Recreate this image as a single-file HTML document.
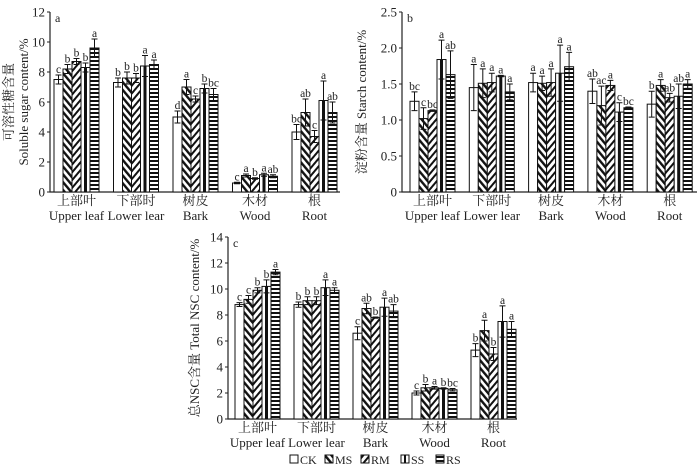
<!DOCTYPE html>
<html><head><meta charset="utf-8"><style>
html,body{margin:0;padding:0;background:#fff;}
svg text{font-family:"Liberation Serif","Noto Serif CJK SC",serif;}
</style></head><body>
<svg id="chart" width="700" height="469" viewBox="0 0 700 469" xmlns="http://www.w3.org/2000/svg">
<defs>
<pattern id="pMS" patternUnits="userSpaceOnUse" width="5" height="5" patternTransform="rotate(-40)"><rect width="5" height="5" fill="#fff"/><rect width="2.4" height="5" fill="#111"/></pattern>
<pattern id="pRM" patternUnits="userSpaceOnUse" width="5" height="5" patternTransform="rotate(40)"><rect width="5" height="5" fill="#fff"/><rect width="2" height="5" fill="#111"/></pattern>
<pattern id="pRS" patternUnits="userSpaceOnUse" width="4" height="4"><rect width="4" height="4" fill="#fff"/><rect width="4" height="2" fill="#111"/></pattern>
</defs>
</svg>
<script>
const categoriesZh = ["上部叶","下部时","树皮","木材","根"];
const categoriesEn = ["Upper leaf","Lower lear","Bark","Wood","Root"];
const series = ["CK","MS","RM","SS","RS"];
const sugarValues = [[7.5,8.2,8.7,8.3,9.6],[7.3,7.6,7.6,8.4,8.5],[5.0,7.0,6.2,6.9,6.5],[0.6,1.1,0.9,1.15,1.05],[4.0,5.3,3.7,6.1,5.3]];
const sugarErrors = [[0.3,0.3,0.2,0.3,0.6],[0.3,0.4,0.3,0.7,0.3],[0.4,0.5,0.2,0.3,0.4],[0.05,0.1,0.05,0.1,0.1],[0.5,0.9,0.4,1.3,0.7]];
const sugarLetters = [["c","b","b","b","a"],["b","b","b","a","a"],["d","a","c","b","bc"],["c","a","b","a","ab"],["bc","ab","c","a","ab"]];
const starchValues = [[1.26,1.02,1.13,1.84,1.63],[1.45,1.51,1.52,1.61,1.39],[1.52,1.51,1.52,1.65,1.74],[1.40,1.20,1.48,1.11,1.17],[1.22,1.48,1.31,1.33,1.50]];
const starchErrors = [[0.13,0.15,0.01,0.27,0.33],[0.32,0.2,0.13,0.01,0.11],[0.13,0.1,0.19,0.39,0.2],[0.17,0.27,0.07,0.13,0.01],[0.18,0.08,0.06,0.17,0.06]];
const starchLetters = [["bc","c","bc","a","ab"],["a","a","a","a","a"],["a","a","a","a","a"],["ab","ac","a","c","bc"],["b","a","ab","ab","a"]];
const nscValues = [[8.8,9.2,9.9,10.2,11.3],[8.8,9.1,9.1,10.1,9.9],[6.6,8.5,7.8,8.6,8.3],[2.0,2.4,2.4,2.35,2.25],[5.3,6.8,5.0,7.5,6.9]];
const nscErrors = [[0.15,0.3,0.2,0.5,0.2],[0.2,0.3,0.3,0.6,0.2],[0.5,0.4,0.05,0.7,0.5],[0.15,0.25,0.1,0.05,0.1],[0.5,0.8,0.5,1.2,0.6]];
const nscLetters = [["c","c","b","b","a"],["b","b","b","a","a"],["c","ab","b","a","ab"],["c","b","a","b","bc"],["b","a","b","a","a"]];
const sugarTicks = ["0","2","4","6","8","10","12"];
const starchTicks = ["0","0.5","1.0","1.5","2.0","2.5"];
const nscTicks = ["0","2","4","6","8","10","12","14"];

const svg = document.getElementById('chart');
const NS = "http://www.w3.org/2000/svg";
const FF = '"Liberation Serif","Noto Serif CJK SC",serif';
function mk(tag, attrs, parent){const e=document.createElementNS(NS,tag);for(const k in attrs)e.setAttribute(k,attrs[k]);if(tag==='text')e.setAttribute('font-family',FF);(parent||svg).appendChild(e);return e;}
const fills = ["#fff","url(#pMS)","url(#pRM)","#fff","url(#pRS)"];

function panel(cfg){
  const g = mk('g',{});
  
  
  const y = v => cfg.y0 - (v/cfg.max)*(cfg.y0-cfg.yTop);
  const ax = mk('path',{d:`M${cfg.ax} ${cfg.yTop} V${cfg.y0} H${cfg.axR}`,stroke:'#222','stroke-width':1.2,fill:'none'},g);
  
  
  cfg.ticks.forEach((t,i)=>{
    const v=parseFloat(t); const yy=y(v);
    mk('line',{x1:cfg.ax-3,x2:cfg.ax,y1:yy,y2:yy,stroke:'#222'},g);
    const tx=mk('text',{x:cfg.ax-5,y:yy+4.5,'text-anchor':'end','font-size':13,fill:'#222'},g);
    tx.textContent=t;
    
    
  });
  const pl=mk('text',{x:cfg.ax+5,y:cfg.yTop+10,'font-size':12,fill:'#222'},g);
  pl.textContent=cfg.letter;
  
  
  cfg.values.forEach((grp,gi)=>{
    const gx=cfg.g0+gi*cfg.gs;
    grp.forEach((v,si)=>{
      const x=gx+si*9; const top=y(v); const bw=9;
      const r=mk('rect',{x:x,y:top,width:bw,height:cfg.y0-top,fill:fills[si],stroke:'#111','stroke-width':1},g);
      
      
      if(si===3){mk('rect',{x:x+3,y:top,width:3,height:cfg.y0-top,fill:'#111'},g);}
      const et=y(v+cfg.errors[gi][si]), eb=y(Math.max(0,v-cfg.errors[gi][si]));
      const cx=x+bw/2;
      mk('path',{d:`M${cx} ${et} V${eb} M${cx-3} ${et} H${cx+3} M${cx-3} ${eb} H${cx+3}`,stroke:'#111','stroke-width':1,fill:'none'},g);
      const lt=mk('text',{x:cx,y:et-2,'text-anchor':'middle','font-size':11.5,fill:'#222'},g);
      lt.textContent=cfg.letters[gi][si];
      
      
    });
    const c=gx+22.5;
    const z=mk('text',{x:c,y:cfg.y0+13,'text-anchor':'middle','font-size':13,fill:'#222'},g);
    z.textContent=categoriesZh[gi];
    
    
    const en=mk('text',{x:c,y:cfg.y0+28,'text-anchor':'middle','font-size':13,fill:'#222'},g);
    en.textContent=categoriesEn[gi];
    
    
  });
  cfg.titles.forEach((t,i)=>{
    const tx=cfg.titleX[i], ty=(cfg.yTop+cfg.y0)/2;
    const tt=mk('text',{x:tx,y:ty,'text-anchor':'middle','font-size':13,fill:'#222',transform:`rotate(-90 ${tx} ${ty})`},g);
    tt.textContent=t;
    
    
  });
}

panel({name:'soluble-sugar-panel',letter:'a',ax:50,axR:340,yTop:12,y0:192,max:12,g0:54,gs:59.5,ticks:sugarTicks,values:sugarValues,errors:sugarErrors,letters:sugarLetters,titles:["可溶性糖含量","Soluble sugar content/%"],titleX:[13,28]});
panel({name:'starch-panel',letter:'b',ax:402,axR:697,yTop:12,y0:192,max:2.5,g0:410,gs:59.3,ticks:starchTicks,values:starchValues,errors:starchErrors,letters:starchLetters,titles:["淀粉含量 Starch content/%"],titleX:[366]});
panel({name:'total-nsc-panel',letter:'c',ax:228,axR:517,yTop:237,y0:419,max:14,g0:235,gs:59,ticks:nscTicks,values:nscValues,errors:nscErrors,letters:nscLetters,titles:["总NSC含量 Total NSC content/%"],titleX:[199]});

const legX=[290,325,361,401,436];
series.forEach((s,i)=>{
  const lg=mk('g',{});
  
  
  mk('rect',{x:legX[i],y:455,width:8,height:8,fill:fills[i],stroke:'#111'},lg);
  if(i===3) mk('rect',{x:legX[i]+3,y:455,width:2,height:8,fill:'#111'},lg);
  const t=mk('text',{x:legX[i]+10,y:464,'font-size':12,fill:'#222'},lg);
  t.textContent=s;
});
</script>
</body></html>
